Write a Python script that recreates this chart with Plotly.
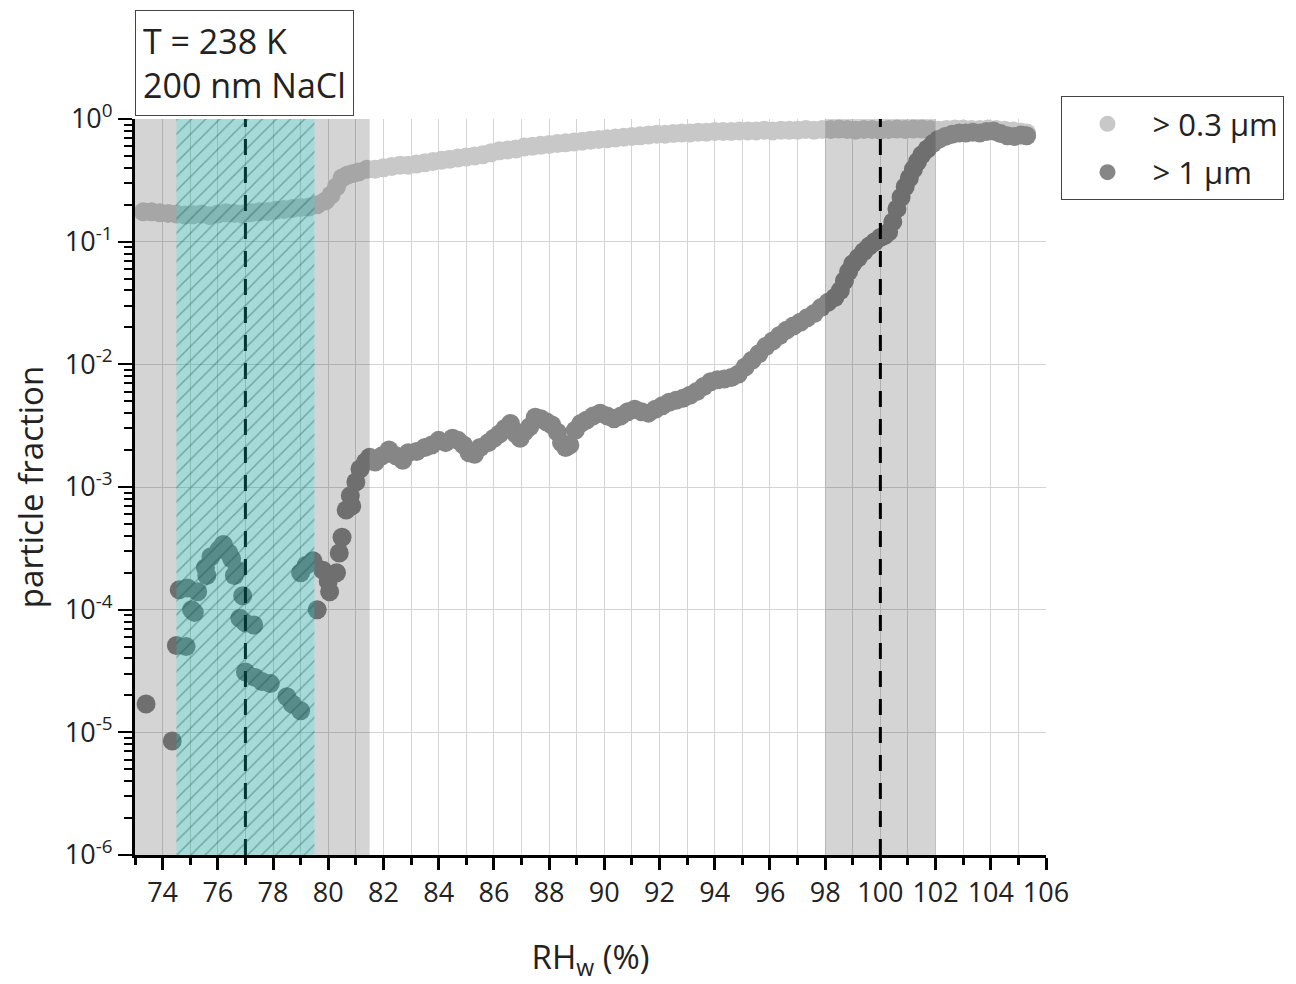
import plotly.graph_objects as go

# ---- data ----
rh_03 = [73.3, 73.6, 73.9, 74.2, 74.5, 74.8, 75.1, 75.4, 75.7, 76.0, 76.3, 76.6, 76.9, 77.2, 77.5, 77.8,
         78.1, 78.4, 78.7, 79.0, 79.3, 79.6, 79.9, 80.1, 80.3, 80.5, 80.7, 80.9, 81.1, 81.4, 81.7, 82.0,
         82.3, 82.6, 82.9, 83.2, 83.5, 83.8, 84.1, 84.4, 84.7, 85.0, 85.3, 85.6, 85.9, 86.2, 86.5, 86.8,
         87.1, 87.4, 87.7, 88.0, 88.3, 88.6, 88.9, 89.2, 89.5, 89.8, 90.1, 90.4, 90.7, 91.0, 91.3, 91.6,
         91.9, 92.2, 92.5, 92.8, 93.1, 93.4, 93.7, 94.0, 94.3, 94.6, 94.9, 95.2, 95.5, 95.8, 96.1, 96.4,
         96.7, 97.0, 97.3, 97.6, 97.9, 98.2, 98.5, 98.8, 99.1, 99.4, 99.7, 100.0, 100.3, 100.6, 100.9,
         101.2, 101.5, 101.8, 102.1, 102.4, 102.7, 103.0, 103.3, 103.6, 103.9, 104.2, 104.5, 104.8,
         105.1, 105.3]
frac_03 = [0.175, 0.175, 0.172, 0.170, 0.168, 0.165, 0.166, 0.168, 0.163, 0.168, 0.172, 0.170, 0.168,
           0.172, 0.175, 0.176, 0.180, 0.183, 0.186, 0.190, 0.192, 0.200, 0.215, 0.240, 0.28, 0.33, 0.35,
           0.36, 0.37, 0.39, 0.39, 0.40, 0.41, 0.42, 0.42, 0.43, 0.44, 0.45, 0.46, 0.47, 0.48, 0.49, 0.50,
           0.51, 0.53, 0.55, 0.56, 0.57, 0.59, 0.60, 0.61, 0.62, 0.63, 0.64, 0.65, 0.66, 0.67, 0.68, 0.69,
           0.70, 0.71, 0.72, 0.73, 0.74, 0.75, 0.75, 0.76, 0.77, 0.77, 0.78, 0.78, 0.79, 0.79, 0.79, 0.80,
           0.80, 0.80, 0.81, 0.80, 0.81, 0.81, 0.81, 0.82, 0.81, 0.82, 0.82, 0.83, 0.82, 0.81, 0.82, 0.82,
           0.81, 0.82, 0.83, 0.82, 0.83, 0.83, 0.82, 0.81, 0.82, 0.83, 0.83, 0.82, 0.82, 0.83, 0.82, 0.81,
           0.80, 0.78, 0.77]

rh_1 = [73.4, 74.35, 74.5, 74.6, 74.85, 74.9, 75.05, 75.15, 75.27, 75.55, 75.6, 75.75, 76.05, 76.2,
        76.4, 76.5, 76.6, 76.7, 76.8, 76.9, 77.0, 77.0, 77.3, 77.35, 77.6, 77.9, 78.5, 78.7, 79.0, 79.0,
        79.2, 79.45, 79.6, 79.8, 80.0, 80.05, 80.3, 80.4, 80.5, 80.65, 80.8, 80.85, 81.0, 81.15, 81.35,
        81.5, 81.7, 81.95, 82.2, 82.45, 82.7, 82.9, 83.2, 83.5, 83.75, 84.0, 84.25, 84.5, 84.7, 84.9,
        85.1, 85.3, 85.5, 85.8, 86.0, 86.2, 86.4, 86.6, 86.8, 86.95, 87.1, 87.3, 87.5, 87.7, 87.9, 88.1,
        88.3, 88.45, 88.6, 88.75, 88.95, 89.15, 89.35, 89.6, 89.85, 90.1, 90.35, 90.6, 90.85, 91.1,
        91.35, 91.6, 91.85, 92.1, 92.35, 92.6, 92.85, 93.1, 93.35, 93.6, 93.85, 94.1, 94.35, 94.6,
        94.85, 95.1, 95.35, 95.6, 95.85, 96.1, 96.35, 96.6, 96.85, 97.1, 97.35, 97.6, 97.85, 98.1,
        98.35, 98.55, 98.7, 98.85, 99.0, 99.2, 99.4, 99.6, 99.8, 100.0, 100.15, 100.3, 100.45, 100.6,
        100.75, 100.9, 101.05, 101.2, 101.35, 101.5, 101.7, 101.9, 102.1, 102.35, 102.6, 102.85,
        103.1, 103.35, 103.6, 103.85, 104.1, 104.35, 104.6, 104.85, 105.1, 105.3]
frac_1 = [1.7e-5, 8.5e-6, 5.1e-5, 1.45e-4, 5.0e-5, 1.5e-4, 1.0e-4, 9.5e-5, 1.4e-4, 2.2e-4, 1.9e-4,
          2.7e-4, 3.1e-4, 3.4e-4, 2.9e-4, 2.6e-4, 1.9e-4, 2.1e-4, 8.5e-5, 1.3e-4, 7.8e-5, 3.1e-5,
          7.5e-5, 2.8e-5, 2.6e-5, 2.5e-5, 1.95e-5, 1.7e-5, 1.5e-5, 2.0e-4, 2.3e-4, 2.5e-4, 1.0e-4,
          2.1e-4, 1.7e-4, 1.4e-4, 2.0e-4, 2.9e-4, 3.9e-4, 6.5e-4, 8.5e-4, 7.0e-4, 1.1e-3, 1.4e-3,
          1.6e-3, 1.75e-3, 1.6e-3, 1.8e-3, 2.0e-3, 1.8e-3, 1.65e-3, 1.9e-3, 1.95e-3, 2.1e-3, 2.2e-3,
          2.4e-3, 2.3e-3, 2.5e-3, 2.4e-3, 2.2e-3, 1.9e-3, 1.85e-3, 2.1e-3, 2.3e-3, 2.5e-3, 2.7e-3,
          3.0e-3, 3.3e-3, 2.7e-3, 2.5e-3, 2.8e-3, 3.1e-3, 3.7e-3, 3.6e-3, 3.4e-3, 3.2e-3, 2.8e-3,
          2.3e-3, 2.1e-3, 2.2e-3, 2.9e-3, 3.3e-3, 3.5e-3, 3.8e-3, 4.0e-3, 3.8e-3, 3.6e-3, 3.8e-3,
          4.1e-3, 4.3e-3, 4.1e-3, 4.0e-3, 4.3e-3, 4.6e-3, 4.9e-3, 5.1e-3, 5.3e-3, 5.6e-3, 6.0e-3,
          6.6e-3, 7.2e-3, 7.5e-3, 7.6e-3, 7.8e-3, 8.3e-3, 9.5e-3, 1.08e-2, 1.22e-2, 1.4e-2, 1.55e-2,
          1.72e-2, 1.9e-2, 2.05e-2, 2.2e-2, 2.4e-2, 2.6e-2, 2.9e-2, 3.2e-2, 3.5e-2, 4.0e-2, 4.8e-2,
          5.7e-2, 6.6e-2, 7.4e-2, 8.3e-2, 9.2e-2, 1.0e-1, 1.08e-1, 1.12e-1, 1.2e-1, 1.45e-1, 1.85e-1,
          2.3e-1, 2.8e-1, 3.3e-1, 3.9e-1, 4.5e-1, 5.1e-1, 5.7e-1, 6.3e-1, 6.8e-1, 7.2e-1, 7.5e-1,
          7.7e-1, 7.7e-1, 7.8e-1, 7.7e-1, 7.9e-1, 8.0e-1, 7.6e-1, 7.3e-1, 7.2e-1, 7.4e-1, 7.3e-1]

series_names = ["> 0.3 \u00b5m", "> 1 \u00b5m"]

# shaded RH ranges and reference lines
gray_bands = [(73.0, 81.5), (98.0, 102.0)]
cyan_band = (74.5, 79.5)
ref_lines = [77.0, 100.0]

x_range = [73, 106]
y_decades = [-6, -5, -4, -3, -2, -1, 0]
y_ticktext = ["10<sup>%d</sup>" % d for d in y_decades]
y_tickvals = [10.0 ** d for d in y_decades]
y_minor = [m * 10.0 ** d for d in y_decades[:-1] for m in range(2, 10)]

FONT = "Open Sans"

fig = go.Figure()

fig.add_trace(go.Scatter(x=rh_03, y=frac_03, mode="markers", name=series_names[0], legendgroup="a",
                         marker=dict(size=19, color="#c8c8c8", line=dict(width=0))))
fig.add_trace(go.Scatter(x=rh_1, y=frac_1, mode="markers", name=series_names[1], legendgroup="b",
                         marker=dict(size=19, color="#868686", line=dict(width=0))))

ylo, yhi = 1e-6, 1.0
for xv in ref_lines:
    fig.add_trace(go.Scatter(x=[xv, xv], y=[ylo, yhi], mode="lines", showlegend=False, hoverinfo="skip",
                             line=dict(color="black", width=3, dash="16px,12px")))

for a, b in gray_bands:
    fig.add_trace(go.Scatter(x=[a, b, b, a, a], y=[ylo, ylo, yhi, yhi, ylo], mode="lines",
                             fill="toself", fillcolor="rgba(0,0,0,0.17)", line=dict(width=0),
                             showlegend=False, hoverinfo="skip"))

a, b = cyan_band
fig.add_trace(go.Scatter(x=[a, b, b, a, a], y=[ylo, ylo, yhi, yhi, ylo], mode="lines",
                         fill="toself", fillcolor="rgba(0,243,234,0.22)", line=dict(width=0),
                         fillpattern=dict(shape="/", size=10, solidity=0.15,
                                          bgcolor="rgba(0,243,234,0.22)",
                                          fgcolor="rgba(15,75,75,0.75)"),
                         showlegend=False, hoverinfo="skip"))

# the page body adds an 8px offset; the figure is sized to fill the rest of the window
fig.update_layout(
    width=1288, height=976,
    margin=dict(l=127, r=248, t=111, b=129),
    paper_bgcolor="white", plot_bgcolor="white",
    font=dict(family=FONT, size=27, color="#222222"),
    showlegend=True,
    legend=dict(x=1.017, y=1.031, xanchor="left", yanchor="top", tracegroupgap=5,
                bordercolor="#444444", borderwidth=1, bgcolor="white",
                font=dict(size=31, color="#222222"), itemwidth=80),
    annotations=[dict(xref="paper", yref="paper", x=0, y=1.148, xanchor="left", yanchor="top",
                      text="T = 238 K<br>200 nm NaCl", showarrow=False, align="left",
                      font=dict(size=34, color="#222222"), bordercolor="#444444", borderwidth=1,
                      borderpad=7, bgcolor="white")],
)

fig.update_xaxes(range=x_range, tick0=74, dtick=2, ticks="outside", ticklen=12, tickwidth=3,
                 tickcolor="black", showline=True, linecolor="black", linewidth=3,
                 showgrid=True, gridcolor="#d4d4d4", gridwidth=1, zeroline=False,
                 minor=dict(dtick=1, ticks="outside", ticklen=7, tickwidth=3, tickcolor="black",
                            showgrid=True, gridcolor="#d4d4d4", gridwidth=1),
                 title=dict(text="RH<sub>w</sub> (%)", font=dict(size=33), standoff=37),
                 tickfont=dict(size=27))

fig.update_yaxes(type="log", range=[-6, 0], tickmode="array", tickvals=y_tickvals, ticktext=y_ticktext,
                 ticks="outside", ticklen=14, tickwidth=2, tickcolor="black",
                 showline=True, linecolor="black", linewidth=3, zeroline=False,
                 showgrid=True, gridcolor="#d4d4d4", gridwidth=1,
                 minor=dict(tickvals=y_minor, ticks="outside", ticklen=8, tickwidth=2,
                            tickcolor="black", showgrid=False),
                 title=dict(text="particle fraction", font=dict(size=33), standoff=16),
                 tickfont=dict(size=27))

fig.write_html("out.html")
